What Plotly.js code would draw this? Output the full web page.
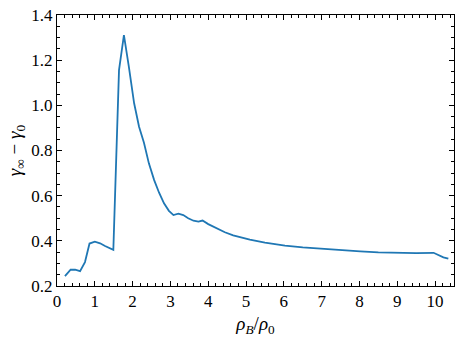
<!DOCTYPE html>
<html>
<head>
<meta charset="utf-8">
<script src="https://cdn.plot.ly/plotly-3.0.1.min.js"></script>
<style>
  html, body { margin: 0; padding: 0; background: #fff; }
  #chart { width: 463px; height: 338px; }
  /* force the serif face on every svg text of the chart */
  #chart text { font-family: 'Times New Roman', 'DejaVu Serif', serif !important; }
  #chart .xtick text, #chart .ytick text { font-size: 17px !important; }
</style>
</head>
<body>
<div id="chart"></div>
<script>
// rho_B / rho_0
const density = [
  0.21, 0.36, 0.48, 0.61, 0.74, 0.86, 1.0, 1.14, 1.27, 1.49,
  1.64, 1.77, 1.90, 2.04, 2.17, 2.30, 2.43, 2.57, 2.70, 2.83,
  2.96, 3.08, 3.21, 3.34, 3.47, 3.61, 3.74, 3.85, 4.0, 4.22,
  4.44, 4.66, 4.89, 5.1, 5.5, 6.03, 6.5, 7.05, 7.5, 8.02,
  8.5, 9.03, 9.5, 9.96, 10.22, 10.35
];
// gamma_inf - gamma_0
const gammaDiff = [
  0.244, 0.272, 0.272, 0.266, 0.306, 0.388, 0.396, 0.389, 0.377, 0.360,
  1.156, 1.311, 1.171, 1.009, 0.905, 0.834, 0.743, 0.669, 0.613, 0.566,
  0.533, 0.514, 0.520, 0.514, 0.500, 0.489, 0.485, 0.490, 0.474, 0.455,
  0.438, 0.424, 0.413, 0.405, 0.392, 0.379, 0.371, 0.364, 0.358, 0.353,
  0.349, 0.346, 0.346, 0.347, 0.327, 0.321
];

const SERIF = 'Times New Roman';

const traces = [
  { x: density, y: gammaDiff, mode: 'lines',
    line: { color: '#1f77b4', width: 1.8 }, showlegend: false, hoverinfo: 'skip' },
];

const layout = {
  width: 463, height: 338,
  paper_bgcolor: '#fff', plot_bgcolor: '#fff',
  margin: { l: 57, r: 9, t: 15, b: 52 },
  xaxis: {
    range: [0, 10.5], dtick: 1, tick0: 0,
    showgrid: false, zeroline: false, showline: true, linecolor: '#000', linewidth: 1,
    mirror: 'allticks', ticks: 'inside', ticklen: 5, tickcolor: '#000',
    tickfont: { family: SERIF, size: 17, color: '#000' },
    minor: { dtick: 0.2, ticks: 'inside', ticklen: 3, tickcolor: '#000', showgrid: false },
    title: { text: '<i>ρ<sub>B</sub></i>/<i>ρ</i><sub>0</sub>',
      font: { family: SERIF, size: 19, color: '#000' }, standoff: 6 },
  },
  yaxis: {
    range: [0.2, 1.4], dtick: 0.2, tick0: 0.2, tickformat: '.1f',
    showgrid: false, zeroline: false, showline: true, linecolor: '#000', linewidth: 1,
    mirror: 'allticks', ticks: 'inside', ticklen: 5, tickcolor: '#000',
    tickfont: { family: SERIF, size: 17, color: '#000' },
    minor: { dtick: 0.05, ticks: 'inside', ticklen: 3, tickcolor: '#000', showgrid: false },
    title: { text: '<i>γ</i><sub>∞</sub> − <i>γ</i><sub>0</sub>',
      font: { family: SERIF, size: 19, color: '#000' }, standoff: 4 },
  },
};

Plotly.newPlot('chart', traces, layout, { displayModeBar: false, staticPlot: true });
</script>
</body>
</html>
